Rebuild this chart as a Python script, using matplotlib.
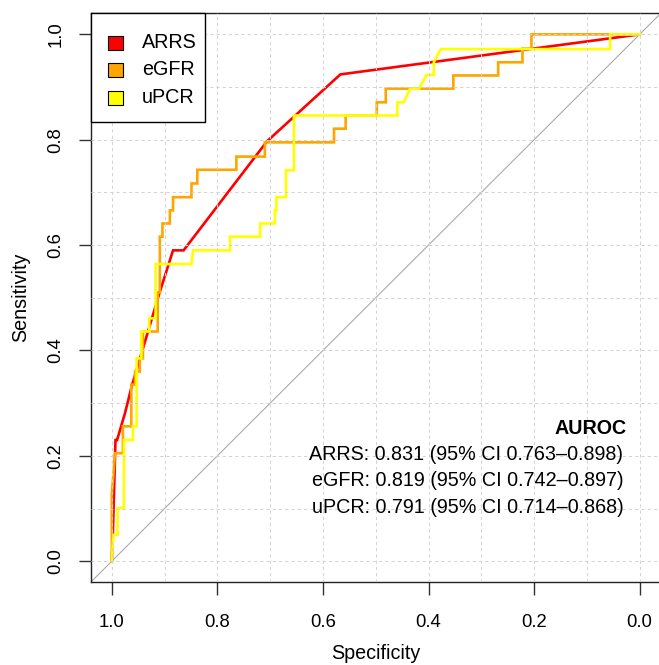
import matplotlib
matplotlib.use("Agg")
from matplotlib import pyplot as plt
from matplotlib.patches import Rectangle

plt.rcParams['font.family'] = ['Liberation Sans', 'DejaVu Sans']

# ROC curves (specificity, sensitivity)
arrs_spec = [1.0, 0.998, 0.993, 0.990, 0.975, 0.962, 0.910, 0.884, 0.864, 0.706, 0.567, 0.0]
arrs_sens = [0.0, 0.05, 0.230, 0.230, 0.281, 0.333, 0.508, 0.590, 0.590, 0.797, 0.924, 1.0]

egfr_spec = [1.0, 1.0, 0.994, 0.979, 0.979, 0.963, 0.963, 0.956, 0.956, 0.947, 0.947, 0.941,
             0.941, 0.913, 0.913, 0.909, 0.909, 0.904, 0.904, 0.890, 0.890, 0.884, 0.884,
             0.849, 0.849, 0.838, 0.838, 0.764, 0.764, 0.710, 0.710, 0.579, 0.579, 0.557,
             0.557, 0.498, 0.498, 0.481, 0.481, 0.353, 0.353, 0.268, 0.268, 0.222, 0.222,
             0.205, 0.205, 0.0]
egfr_sens = [0.0, 0.126, 0.205, 0.205, 0.256, 0.256, 0.335, 0.335, 0.360, 0.360, 0.385, 0.385,
             0.436, 0.436, 0.510, 0.510, 0.616, 0.616, 0.641, 0.641, 0.666, 0.666, 0.691,
             0.691, 0.717, 0.717, 0.743, 0.743, 0.768, 0.768, 0.795, 0.795, 0.821, 0.821,
             0.846, 0.846, 0.871, 0.871, 0.897, 0.897, 0.922, 0.922, 0.947, 0.947, 0.973,
             0.973, 1.0, 1.0]

upcr_spec = [1.0, 0.997, 0.989, 0.989, 0.977, 0.977, 0.960, 0.960, 0.953, 0.953, 0.944, 0.944,
             0.929, 0.929, 0.917, 0.917, 0.849, 0.846, 0.776, 0.776, 0.719, 0.719, 0.691,
             0.691, 0.688, 0.688, 0.670, 0.670, 0.655, 0.655, 0.459, 0.459, 0.447, 0.435,
             0.418, 0.404, 0.390, 0.390, 0.377, 0.056, 0.056, 0.0]
upcr_sens = [0.0, 0.05, 0.05, 0.101, 0.101, 0.230, 0.230, 0.256, 0.256, 0.385, 0.385, 0.436,
             0.436, 0.461, 0.461, 0.564, 0.564, 0.590, 0.590, 0.616, 0.616, 0.641, 0.641,
             0.666, 0.666, 0.691, 0.691, 0.742, 0.742, 0.846, 0.846, 0.871, 0.871, 0.897,
             0.897, 0.923, 0.923, 0.947, 0.972, 0.972, 1.0, 1.0]

names = ["ARRS", "eGFR", "uPCR"]
colors = ["#FF0000", "#FFA500", "#FFFF00"]
auc = ["0.831", "0.819", "0.791"]
ci_lo = ["0.763", "0.742", "0.714"]
ci_hi = ["0.898", "0.897", "0.868"]

ticks = [0.0, 0.2, 0.4, 0.6, 0.8, 1.0]
grid_pos = [i / 10 for i in range(11)]

FS = 14.2

fig = plt.figure(figsize=(6.59, 6.65), dpi=100)
ax = fig.add_axes([0.1376, 0.1244, 0.8651, 0.8556])
ax.set_xlim(1.04, -0.04)
ax.set_ylim(-0.04, 1.04)

# chance line
ax.plot([1.04, -0.04], [-0.04, 1.04], color="#aaaaaa", lw=0.8, zorder=1)

curves = [(arrs_spec, arrs_sens), (egfr_spec, egfr_sens), (upcr_spec, upcr_sens)]
for (sp, se), c in zip(curves, colors):
    ax.plot(sp, se, color=c, lw=1.9, zorder=2, solid_joinstyle="miter")

# grid goes over the curves like R's grid()
for g in grid_pos:
    ax.axvline(g, color="#d3d3d3", lw=0.75, ls=(0, (3, 3)), zorder=3)
    ax.axhline(g, color="#d3d3d3", lw=0.75, ls=(0, (3, 3)), zorder=3)

ax.set_xticks(ticks)
ax.set_yticks(ticks)
ax.set_xticklabels(["%.1f" % t for t in ticks])
ax.set_yticklabels(["%.1f" % t for t in ticks], rotation=90, va="center")
ax.tick_params(direction="out", length=9, width=1.0, color="#333333", labelsize=13.3)
ax.tick_params(axis="x", pad=13.5)
ax.tick_params(axis="y", pad=10)
for s in ax.spines.values():
    s.set_color("#222222")
    s.set_linewidth(1.0)

ax.set_xlabel("Specificity", fontsize=FS, va="baseline")
ax.set_ylabel("Sensitivity", fontsize=FS, va="center")
ax.xaxis.set_label_coords(0.5, -0.135)
ax.yaxis.set_label_coords(-0.1226, 0.5)

# legend box in the top-left corner, R style
ax.add_patch(Rectangle((0, 0.8084), 0.201, 0.1916, transform=ax.transAxes,
                       facecolor="white", edgecolor="black", lw=1.0, zorder=5,
                       clip_on=False))
leg_y = [0.9395, 0.8912, 0.8429]
for n, c, y in zip(names, colors, leg_y):
    ax.add_patch(Rectangle((0.0309, y - 0.0033), 0.0263, 0.0246, transform=ax.transAxes,
                           facecolor=c, edgecolor="black", lw=0.8, zorder=6))
    ax.text(0.0895, y, n, fontsize=FS, transform=ax.transAxes,
            ha="left", va="baseline", zorder=6)

# AUROC annotation
ax.text(0.025, 0.2419, "AUROC", fontsize=FS, fontweight="bold",
        ha="right", va="baseline", zorder=4)
auroc_y = [0.1926, 0.1420, 0.0917]
for i, n in enumerate(names):
    ax.text(0.0307, auroc_y[i],
            "%s: %s (95%% CI %s\u2013%s)" % (n, auc[i], ci_lo[i], ci_hi[i]),
            fontsize=FS, ha="right", va="baseline", zorder=4)

fig.savefig("out.png", dpi=100)
